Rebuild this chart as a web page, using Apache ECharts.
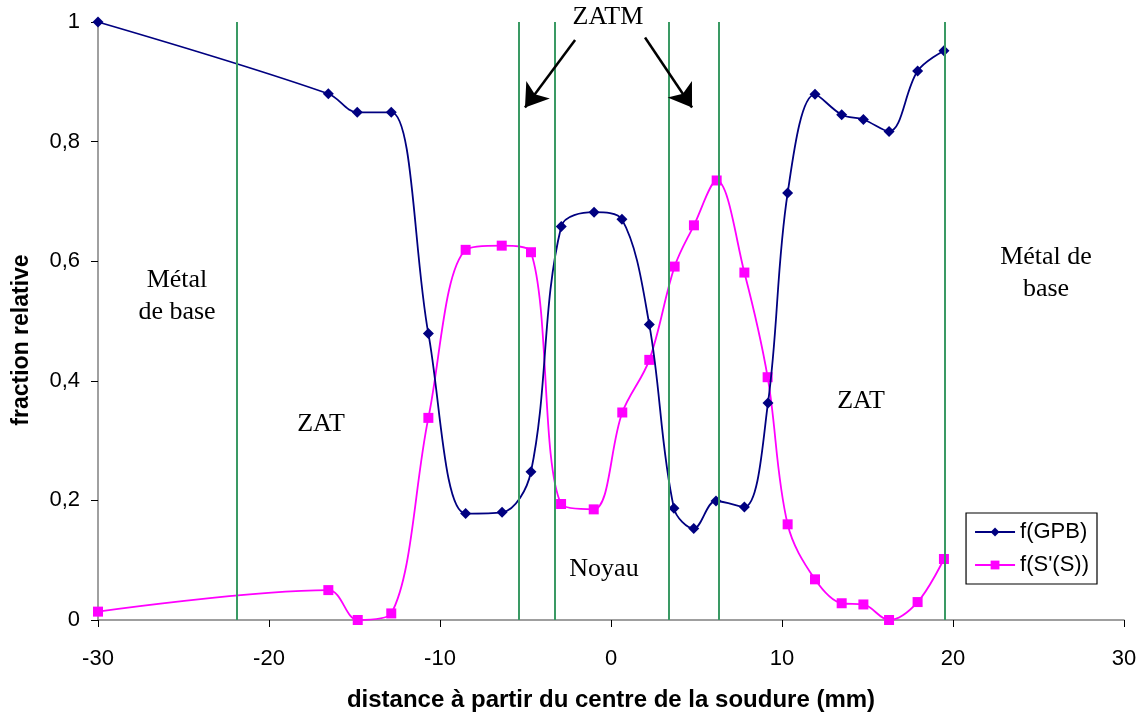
<!DOCTYPE html>
<html><head><meta charset="utf-8">
<script src="https://cdn.jsdelivr.net/npm/echarts@6/dist/echarts.min.js"></script>
<style>html,body{margin:0;padding:0;background:#fff}#c{width:1146px;height:717px}</style>
</head><body><div id="c"></div>
<script>
const gpbX = [-30, -16.53, -14.84, -12.85, -10.68, -8.50, -6.37, -4.68, -2.91, -0.99, 0.64, 2.24, 3.68, 4.84, 6.14, 7.80, 9.18, 10.33, 11.93, 13.49, 14.76, 16.26, 17.93, 19.47];
const gpbY = [1.0, 0.880, 0.849, 0.849, 0.479, 0.178, 0.180, 0.248, 0.658, 0.682, 0.670, 0.494, 0.187, 0.153, 0.199, 0.189, 0.363, 0.714, 0.879, 0.845, 0.837, 0.817, 0.918, 0.952];
const ssX = [-30, -16.53, -14.81, -12.85, -10.68, -8.50, -6.39, -4.68, -2.92, -1.01, 0.66, 2.24, 3.72, 4.85, 6.18, 7.80, 9.16, 10.33, 11.93, 13.49, 14.76, 16.26, 17.93, 19.47];
const ssY = [0.014, 0.050, 0.0, 0.011, 0.338, 0.619, 0.626, 0.615, 0.194, 0.185, 0.347, 0.435, 0.591, 0.660, 0.735, 0.581, 0.406, 0.160, 0.068, 0.028, 0.026, 0.0, 0.030, 0.102];
const zoneLines = [-21.87, -5.38, -3.27, 3.39, 6.33, 19.53];
const seriesNames = ['f(GPB)', "f(S'(S))"];
const xTitle = 'distance à partir du centre de la soudure (mm)';
const yTitle = 'fraction relative';
const labels = [
  {text: 'ZATM', x: -0.18, y: 1.008},
  {text: 'Métal\nde base', x: -25.38, y: 0.541},
  {text: 'Métal de\nbase', x: 25.44, y: 0.580},
  {text: 'ZAT', x: -16.96, y: 0.327},
  {text: 'ZAT', x: 14.62, y: 0.366},
  {text: 'Noyau', x: -0.41, y: 0.085}
];
const arrows = [
  [[-2.1, 0.970], [-5.03, 0.857]],
  [[1.99, 0.974], [4.74, 0.857]]
];

const chart = echarts.init(document.getElementById('c'));
const pair = (xs, ys) => xs.map((x, i) => [x, ys[i]]);
const option = {
  animation: false,
  backgroundColor: '#fff',
  grid: {left: 98, right: 22, top: 22, bottom: 96},
  legend: {
    right: 49, top: 513, orient: 'vertical',
    backgroundColor: '#fff', borderColor: '#000', borderWidth: 1.2,
    padding: [8, 8, 8, 8], itemGap: 11, itemWidth: 40, itemHeight: 11,
    textStyle: {fontFamily: 'Liberation Sans, Arial', fontSize: 22, color: '#000'},
    data: seriesNames
  },
  xAxis: {
    type: 'value', min: -30, max: 30, interval: 10,
    name: xTitle, nameLocation: 'middle', nameGap: 68,
    nameTextStyle: {fontFamily: 'Liberation Sans, Arial', fontWeight: 'bold', fontSize: 24, color: '#000'},
    axisLine: {onZero: false, lineStyle: {color: '#808080', width: 1.5}},
    axisTick: {length: 7, lineStyle: {color: '#000'}},
    axisLabel: {fontFamily: 'Liberation Sans, Arial', fontSize: 22, color: '#000', margin: 28},
    splitLine: {show: false}
  },
  yAxis: {
    type: 'value', min: 0, max: 1, interval: 0.2,
    axisLine: {show: true, onZero: false, lineStyle: {color: '#808080', width: 1.5}},
    axisTick: {show: true, length: 7, lineStyle: {color: '#000'}},
    axisLabel: {fontFamily: 'Liberation Sans, Arial', fontSize: 22, color: '#000', margin: 18,
      formatter: v => String(Math.round(v * 10) / 10).replace('.', ',')},
    splitLine: {show: false}
  },
  series: [
    {
      name: seriesNames[0], type: 'line', smooth: 0.35, data: pair(gpbX, gpbY),
      symbol: 'diamond', symbolSize: 11, z: 4,
      itemStyle: {color: '#000080'}, lineStyle: {color: '#000080', width: 1.8},
      markLine: {
        silent: true, symbol: 'none', animation: false,
        label: {show: false},
        lineStyle: {color: '#3a9a64', width: 2, type: 'solid'},
        data: zoneLines.map(x => ({xAxis: x}))
      }
    },
    {
      name: seriesNames[1], type: 'line', smooth: 0.35, data: pair(ssX, ssY),
      symbol: 'rect', symbolSize: 10, z: 3,
      itemStyle: {color: '#ff00ff'}, lineStyle: {color: '#ff00ff', width: 1.8},
      markLine: {
        silent: true, animation: false, symbol: ['none', 'arrow'], symbolSize: 22,
        label: {show: false},
        itemStyle: {color: '#000'},
        lineStyle: {color: '#000', width: 2.5, type: 'solid'},
        data: arrows.map(a => [{coord: a[0]}, {coord: a[1]}])
      }
    }
  ]
};
chart.setOption(option);
const graphics = labels.map(l => {
  const p = chart.convertToPixel({gridIndex: 0}, [l.x, l.y]);
  return {
    type: 'text', x: p[0], y: p[1], z: 10,
    style: {text: l.text, fontFamily: 'Liberation Serif, Times New Roman', fontSize: 26,
      fill: '#000', align: 'center', verticalAlign: 'middle', lineHeight: 32}
  };
});
graphics.push({
  type: 'text', x: 22, y: 340, rotation: Math.PI / 2, z: 10,
  style: {text: yTitle, fontFamily: 'Liberation Sans, Arial', fontWeight: 'bold', fontSize: 23,
    fill: '#000', align: 'center', verticalAlign: 'middle'}
});
chart.setOption({graphic: graphics});
</script></body></html>
